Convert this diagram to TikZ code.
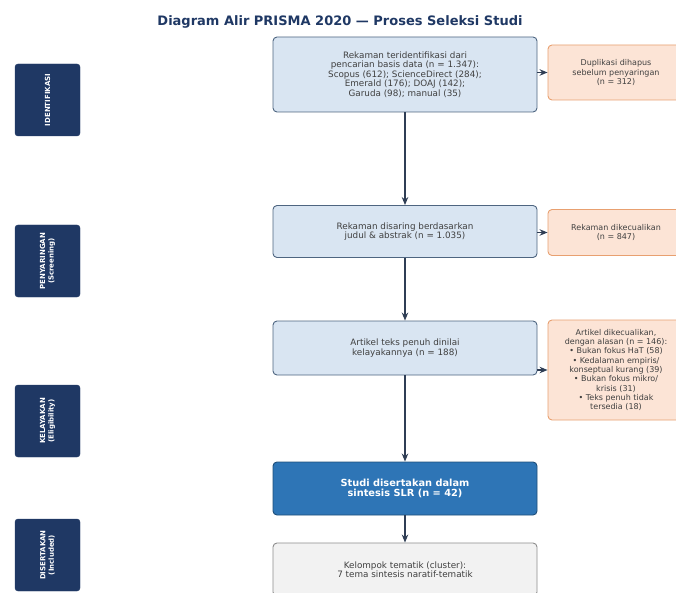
\documentclass[tikz,border=0pt]{standalone}
\usepackage{fontspec}
\setmainfont{DejaVu Sans}
\usetikzlibrary{arrows.meta}

\definecolor{navy}{HTML}{1F3864}
\definecolor{stagefill}{HTML}{D9E5F2}
\definecolor{stageline}{HTML}{4E6580}
\definecolor{exclfill}{HTML}{FCE4D6}
\definecolor{exclline}{HTML}{E8A070}
\definecolor{inclfill}{HTML}{2E75B6}
\definecolor{inclline}{HTML}{1F4E79}
\definecolor{greyfill}{HTML}{F2F2F2}
\definecolor{greyline}{HTML}{8C8C8C}
\definecolor{flowcol}{HTML}{2F3E55}

\begin{document}
\begin{tikzpicture}[x=1pt,y=-1pt]
		\tikzstyle{phase}=[draw=navy, fill=navy, rounded corners=3pt, rotate=90, minimum width=72pt, minimum height=65pt, inner sep=1pt, text=white, align=center, font=\fontsize{7}{8.5}\selectfont\bfseries];
		\tikzstyle{stage}=[draw=stageline, fill=stagefill, line width=0.9pt, rounded corners=4pt, minimum width=264pt, align=center, text=black!75, font=\fontsize{8.8}{9.4}\selectfont];
		\tikzstyle{excl}=[draw=exclline, fill=exclfill, line width=0.9pt, rounded corners=4pt, minimum width=136pt, align=center, text=black!75, font=\fontsize{8}{9.3}\selectfont];
		\tikzstyle{flow}=[-{Stealth[length=8pt,width=6.5pt]}, draw=flowcol, line width=1.2pt];

		\useasboundingbox (0,0) rectangle (676,593);
		\clip (0,0) rectangle (676,593);

		\node[text=navy, font=\fontsize{13}{15}\selectfont\bfseries] (title) at (340,22) {Diagram Alir PRISMA 2020 — Proses Seleksi Studi};

		% tahapan
		\node[phase] (pIdent) at (47.5,100) {IDENTIFIKASI};
		\node[phase] (pScreen) at (47.5,261) {PENYARINGAN\\(Screening)};
		\node[phase] (pElig) at (47.5,421) {KELAYAKAN\\(Eligibility)};
		\node[phase] (pIncl) at (47.5,555) {DISERTAKAN\\(Included)};

		% alur utama
		\node[stage, minimum height=75pt] (ident) at (405,74.5) {Rekaman teridentifikasi dari\\pencarian basis data (n = 1.347):\\Scopus (612); ScienceDirect (284);\\Emerald (176); DOAJ (142);\\Garuda (98); manual (35)};
		\node[stage, minimum height=52pt] (screen) at (405,231.5) {Rekaman disaring berdasarkan\\judul \& abstrak (n = 1.035)};
		\node[stage, minimum height=54pt] (elig) at (405,348) {Artikel teks penuh dinilai\\kelayakannya (n = 188)};
		\node[stage, minimum height=53pt, draw=inclline, fill=inclfill, text=white, font=\fontsize{9.8}{10}\selectfont\bfseries] (incl) at (405,488.5) {Studi disertakan dalam\\sintesis SLR (n = 42)};
		\node[stage, minimum height=53pt, draw=greyline, fill=greyfill] (cluster) at (405,569.5) {Kelompok tematik (cluster):\\7 tema sintesis naratif-tematik};

		% dikecualikan
		\node[excl, minimum height=55pt] (dup) at (616,72.5) {Duplikasi dihapus\\sebelum penyaringan\\(n = 312)};
		\node[excl, minimum height=46pt] (exScreen) at (616,232.5) {Rekaman dikecualikan\\(n = 847)};
		\node[excl, minimum height=100pt] (exElig) at (616,370) {Artikel dikecualikan,\\dengan alasan (n = 146):\\• Bukan fokus HaT (58)\\• Kedalaman empiris/\\konseptual kurang (39)\\• Bukan fokus mikro/\\krisis (31)\\• Teks penuh tidak\\tersedia (18)};

		\draw[flow] (ident) -- (screen);
		\draw[flow] (screen) -- (elig);
		\draw[flow] (elig) -- (incl);
		\draw[flow] (incl) -- (cluster);
		\draw[flow] (ident.east |- dup.west) -- (dup.west);
		\draw[flow] (screen.east |- exScreen.west) -- (exScreen.west);
		\draw[flow] (elig.east |- exElig.west) -- (exElig.west);
	\end{tikzpicture}
\end{document}
